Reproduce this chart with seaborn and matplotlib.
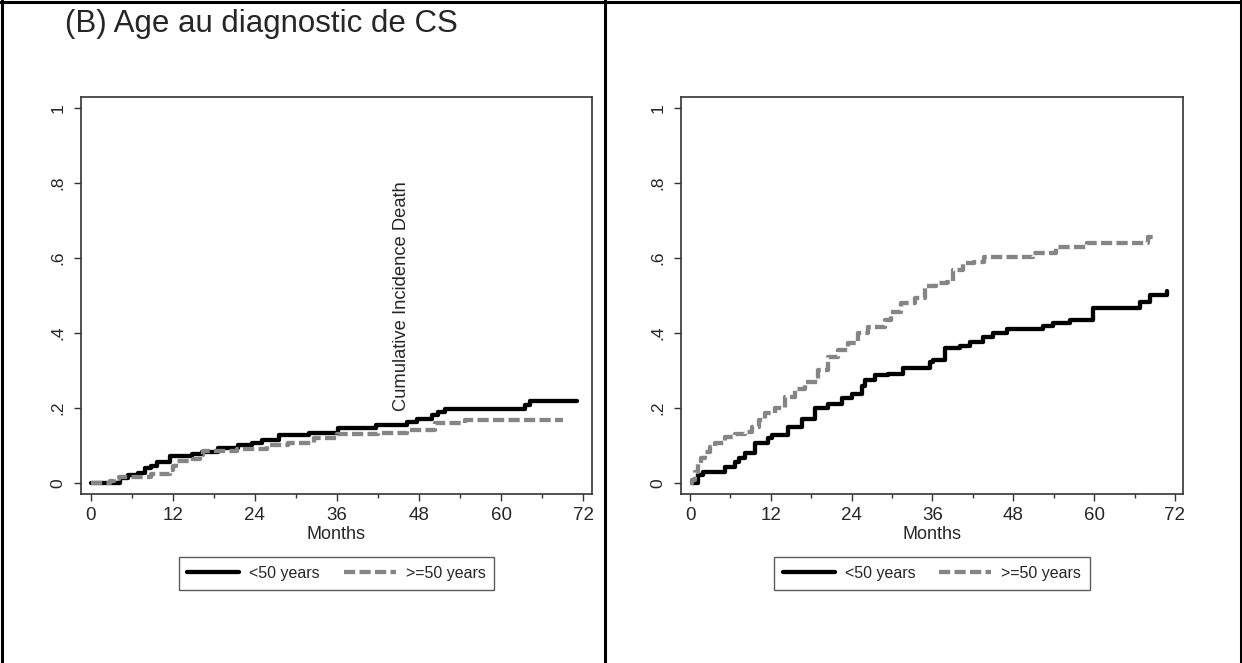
import pandas as pd
import seaborn as sns
import matplotlib.pyplot as plt
from matplotlib.lines import Line2D

# cumulative incidence curves (months, value)
groups = ['<50 years', '>=50 years']

left_young_months = [0, 4.3, 5.5, 7.0, 8.0, 8.8, 9.7, 11.6, 14.8, 16.3, 18.7, 21.6, 23.6, 25.0, 27.5,
                     32.0, 36.2, 41.8, 46.2, 47.7, 49.9, 50.8, 51.8, 63.5, 64.2, 71.1]
left_young_cuminc = [0, 0.013, 0.021, 0.026, 0.04, 0.045, 0.057, 0.072, 0.077, 0.083, 0.093, 0.101, 0.108, 0.115, 0.128,
                     0.133, 0.147, 0.156, 0.163, 0.171, 0.181, 0.19, 0.197, 0.208, 0.22, 0.22]

left_old_months = [0, 2.9, 3.4, 4.2, 8.9, 11.6, 12.0, 12.5, 15.0, 16.0, 16.4, 21.4, 25.8, 28.8, 32.6,
                   36.0, 42.0, 46.2, 50.4, 54.8, 69.1]
left_old_cuminc = [0, 0.005, 0.011, 0.017, 0.023, 0.035, 0.045, 0.06, 0.065, 0.075, 0.085, 0.092, 0.101, 0.107, 0.119,
                   0.13, 0.134, 0.141, 0.159, 0.168, 0.168]

right_young_months = [0.25, 1.2, 2.0, 5.2, 6.7, 7.3, 8.2, 9.6, 11.6, 12.1, 14.6, 16.6, 18.6, 20.5, 22.5, 24.0,
                      25.5, 26.0, 27.5, 29.4, 31.6, 35.6, 36.1, 37.9, 40.1, 41.6, 43.5, 45.0, 47.0, 52.4,
                      53.9, 56.4, 59.9, 66.8, 68.3, 70.8]
right_young_cuminc = [0, 0.021, 0.03, 0.043, 0.057, 0.068, 0.079, 0.106, 0.12, 0.128, 0.15, 0.172, 0.199, 0.21, 0.226, 0.237,
                      0.26, 0.275, 0.288, 0.292, 0.308, 0.323, 0.328, 0.359, 0.365, 0.377, 0.39, 0.399, 0.41, 0.419,
                      0.427, 0.436, 0.467, 0.483, 0.501, 0.513]

right_old_months = [0, 0.25, 0.7, 1.2, 1.7, 2.2, 2.9, 3.7, 5.2, 6.7, 8.2, 9.2, 10.2, 11.1, 12.6, 14.1, 15.6,
                    17.1, 19.0, 20.5, 22.0, 23.5, 25.0, 26.5, 29.0, 29.9, 31.4, 33.4, 34.9, 36.5, 38.1, 39.1,
                    40.6, 42.1, 43.6, 51.0, 54.4, 58.9, 68.0, 69.3]
right_old_cuminc = [0, 0.007, 0.03, 0.052, 0.068, 0.083, 0.095, 0.106, 0.123, 0.13, 0.137, 0.15, 0.168, 0.186, 0.199, 0.23, 0.252,
                    0.27, 0.301, 0.337, 0.355, 0.373, 0.399, 0.417, 0.435, 0.457, 0.479, 0.493, 0.524, 0.533, 0.537, 0.568,
                    0.587, 0.59, 0.603, 0.613, 0.63, 0.639, 0.657, 0.657]

x_ticks = [0, 12, 24, 36, 48, 60, 72]
y_ticks = [0, 0.2, 0.4, 0.6, 0.8, 1]
y_ticklabels = ['0', '.2', '.4', '.6', '.8', '1']


def make_df(m_young, v_young, m_old, v_old):
    young = pd.DataFrame({'month': m_young, 'cuminc': v_young, 'group': groups[0]})
    old = pd.DataFrame({'month': m_old, 'cuminc': v_old, 'group': groups[1]})
    return pd.concat([young, old], ignore_index=True)


left_df = make_df(left_young_months, left_young_cuminc, left_old_months, left_old_cuminc)
right_df = make_df(right_young_months, right_young_cuminc, right_old_months, right_old_cuminc)

#make figure
sns.set_style('white')
plt.rcParams['font.family'] = ['Liberation Sans', 'DejaVu Sans']

W, H = 1242, 663
fig = plt.figure(figsize=(W / 100, H / 100), dpi=100)
ax1 = fig.add_axes([81 / W, 169 / H, 511 / W, 397 / H])
ax2 = fig.add_axes([681 / W, 169 / H, 502 / W, 397 / H])

gray = '#858585'
palette = {groups[0]: 'black', groups[1]: gray}
dash_map = {groups[0]: '', groups[1]: (2.6, 1.0)}
frame_col = '#333333'

for ax, df, xlim in [(ax1, left_df, (-1.39, 73.3)), (ax2, right_df, (-1.34, 73.2))]:
    sns.lineplot(data=df, x='month', y='cuminc', hue='group', style='group', palette=palette,
                 dashes=dash_map, estimator=None, drawstyle='steps-post', linewidth=3.1,
                 legend=False, ax=ax)
    ax.set_xlim(*xlim)
    ax.set_ylim(-0.029, 1.029)
    ax.set_xticks(x_ticks)
    ax.set_xticks([6, 18, 30, 42, 54, 66], minor=True)
    ax.set_xticklabels([str(t) for t in x_ticks], fontsize=13.5)
    ax.set_yticks(y_ticks)
    ax.set_yticklabels(y_ticklabels, rotation=90, va='center', fontsize=12.5)
    ax.tick_params(axis='both', which='major', direction='out', length=5, width=1, color=frame_col,
                   bottom=True, left=True)
    ax.tick_params(axis='x', which='major', pad=4.5)
    ax.tick_params(axis='y', which='major', pad=6)
    ax.tick_params(axis='x', which='minor', direction='out', length=3, width=1, color=frame_col, bottom=True)
    for sp in ax.spines.values():
        sp.set_color(frame_col)
        sp.set_linewidth(1.2)
    ax.set_ylabel('')
    ax.set_xlabel('Months', fontsize=13)
    ax.xaxis.set_label_coords(0.5, -0.08)

    handles = [Line2D([], [], color='black', linewidth=3.1),
               Line2D([], [], color=gray, linewidth=3.1, dashes=(2.6, 1.0))]
    leg = ax.legend(handles, groups, loc='center', bbox_to_anchor=(0.5, -0.2), ncol=2, frameon=True,
                    fancybox=False, edgecolor=frame_col, fontsize=11.5, handlelength=3.25,
                    handletextpad=0.63, columnspacing=1.5, borderpad=0.55)
    leg.get_frame().set_linewidth(1.0)

ax1.text(45.4, 0.192, 'Cumulative Incidence Death', rotation=90, ha='center', va='bottom',
         fontsize=13.2)

fig.text(65 / W, 1 - 32 / H, '(B) Age au diagnostic de CS', fontsize=22.5, va='baseline', ha='left')

# table borders around the two panels
for xs, ys in [([0, 1], [1 - 1.5 / H] * 2),
               ([1.5 / W] * 2, [0, 1]),
               ([604.5 / W] * 2, [0, 1]),
               ([1240.5 / W] * 2, [0, 1])]:
    fig.add_artist(Line2D(xs, ys, color='black', linewidth=2.2, transform=fig.transFigure))

plt.savefig('out.png', dpi=100)
